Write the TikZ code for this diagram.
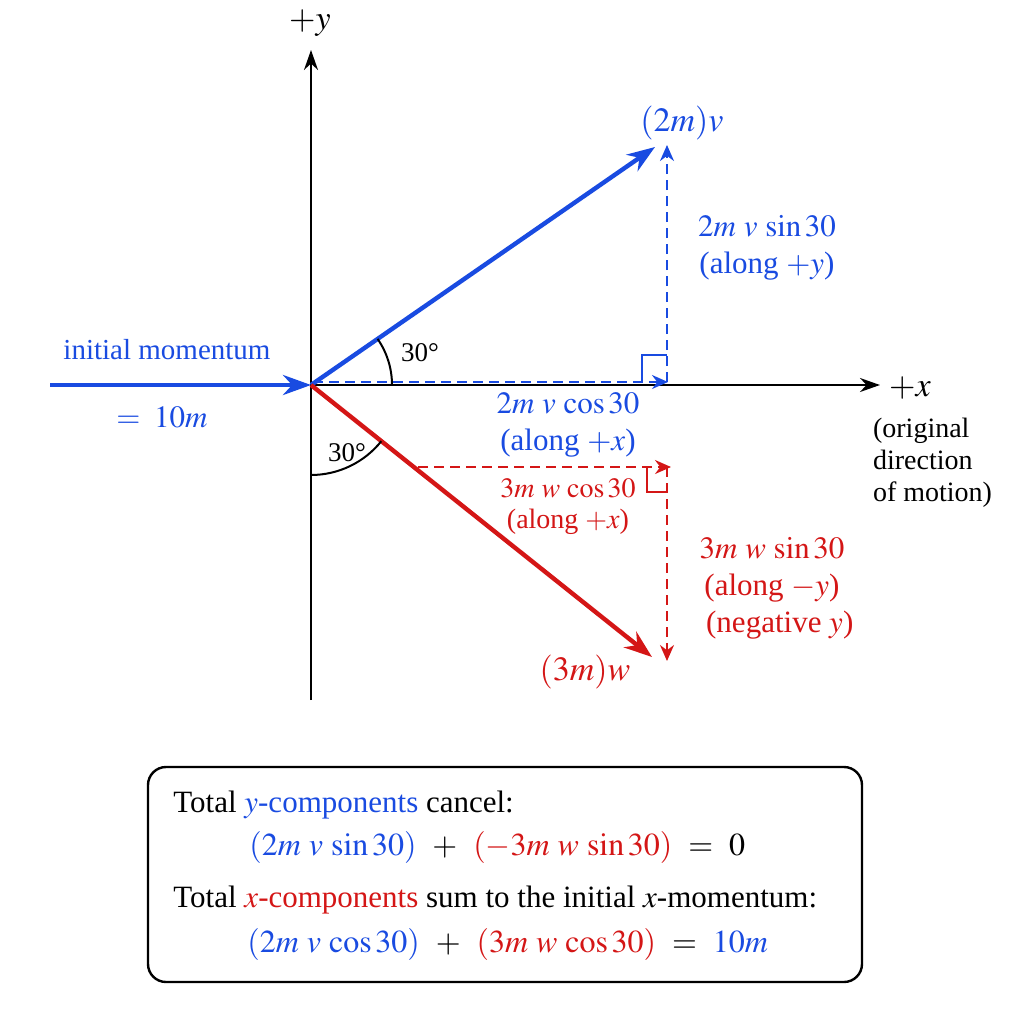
\documentclass[tikz,border=0pt]{standalone}
\usepackage{mathptmx}
\usepackage{fontspec}
\setmainfont{Liberation Serif}
\usetikzlibrary{arrows.meta,positioning}
\definecolor{vblue}{RGB}{25,75,225}
\definecolor{vred}{RGB}{212,22,22}
\tikzset{
  axis/.style={black,line width=1pt,-{Stealth[length=10pt,width=7pt]}},
  vec/.style={line width=2.2pt,-{Stealth[length=14pt,width=10pt]}},
  comp/.style={line width=1pt,dash pattern=on 5pt off 3pt,-{Stealth[length=8pt,width=7pt]}},
  rmark/.style={line width=1pt},
  lbl/.style={font=\fontsize{15.5}{18.5}\selectfont,align=center},
  small lbl/.style={font=\fontsize{14}{15.5}\selectfont,align=center},
  big lbl/.style={font=\fontsize{17}{20}\selectfont},
  boxtext/.style={font=\fontsize{15.5}{19}\selectfont,anchor=west,inner sep=0pt},
  boxeq/.style={font=\fontsize{16}{19}\selectfont,anchor=west,inner sep=0pt}
}
\begin{document}
\begin{tikzpicture}[x=0.5pt,y=-0.5pt]
\useasboundingbox[fill=white] (0,0) rectangle (1024,1024);

% axes
\coordinate (O) at (311,385);
\coordinate (ytop) at (311,50);
\coordinate (ybot) at (311,700);
\coordinate (xend) at (880,385);
\draw[axis] (ybot) -- (ytop);
\draw[axis] (O) -- (xend);
\node[big lbl] (ylab) at (310,23) {$+y$};
\node[big lbl] (xlab) at (910,388) {$+x$};
\node[font=\fontsize{14}{16}\selectfont,align=left,anchor=west] (orig) at (866,463) {(original\\direction\\of motion)};

% initial momentum
\coordinate (start) at (50,385);
\draw[vec,vblue] (start) -- (O);
\node[font=\fontsize{14.5}{17}\selectfont,text=vblue] (init) at (167,350) {initial momentum};
\node[lbl,text=vblue] (initval) at (162,417) {$=\;10m$};

% blue vector and components
\coordinate (V) at (655,147);
\coordinate (vx0) at (313,382);
\coordinate (vx) at (668,382);
\coordinate (vy0) at (667,382);
\coordinate (vy) at (667,145);
\draw[comp,vblue] (vx0) -- (vx);
\draw[comp,vblue] (vy0) -- (vy);
\draw[rmark,vblue] (642,382) -- (642,355) -- (667,355);
\draw[vec,vblue] (O) -- (V);
\node[big lbl,text=vblue] (Vlab) at (682,123) {$(2m)v$};
\node[lbl,text=vblue] (vsin) at (767,248) {$2m\ v\ \mathrm{sin}\,30$\\(along $+y$)};
\node[lbl,text=vblue] (vcos) at (568,425) {$2m\ v\ \mathrm{cos}\,30$\\(along $+x$)};

% red vector and components
\coordinate (W) at (652,657);
\coordinate (wx0) at (418,467);
\coordinate (wx) at (671,467);
\coordinate (wy0) at (667,467);
\coordinate (wy) at (667,661);
\draw[comp,vred] (wx0) -- (wx);
\draw[comp,vred] (wy0) -- (wy);
\draw[rmark,vred] (647,467) -- (647,492) -- (667,492);
\draw[vec,vred] (O) -- (W);
\node[big lbl,text=vred] (Wlab) at (585,672) {$(3m)w$};
\node[small lbl,text=vred] (wcos) at (568,507) {$3m\ w\ \mathrm{cos}\,30$\\(along $+x$)};
\node[lbl,text=vred] (wsin) at (772,588) {$3m\ w\ \mathrm{sin}\,30$\\(along $-y$)\\\ \ (negative $y$)};

% angles
\draw[line width=1pt] (392,385) arc[start angle=0,end angle=-34.7,radius=81];
\draw[line width=1pt] (311,475) arc[start angle=90,end angle=38.6,radius=90];
\node[font=\fontsize{13.5}{16}\selectfont] (ang1) at (420,353) {30°};
\node[font=\fontsize{13.5}{16}\selectfont] (ang2) at (347,453) {30°};

% summary box
\draw[line width=1.2pt,rounded corners=9pt] (148,767) rectangle (862,982);
\node[boxtext] (l1) at (173,805) {Total {\color{vblue}$y$-components} cancel:};
\node[boxeq] (l2) at (249,847) {{\color{vblue}$(2m\ v\ \mathrm{sin}\,30)$}\ \ $+$\ \ {\color{vred}$(-3m\ w\ \mathrm{sin}\,30)$}\ \ $=$\ \ $0$};
\node[boxtext] (l3) at (173,900) {Total {\color{vred}$x$-components} sum to the initial $x$-momentum:};
\node[boxeq] (l4) at (247,944) {{\color{vblue}$(2m\ v\ \mathrm{cos}\,30)$}\ \ $+$\ \ {\color{vred}$(3m\ w\ \mathrm{cos}\,30)$}\ \ $=$\ \ {\color{vblue}$10m$}};
\end{tikzpicture}
\end{document}
